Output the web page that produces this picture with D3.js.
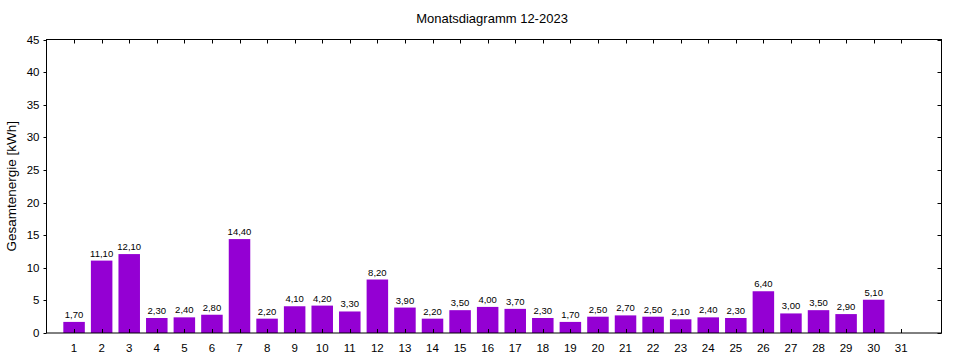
<!DOCTYPE html>
<html><head><meta charset="utf-8">
<script src="https://cdn.jsdelivr.net/npm/d3@7"></script>
<style>body{margin:0;background:#fff}svg{display:block;font-family:"Liberation Sans",Arial,sans-serif}</style>
</head><body><svg id="c" width="960" height="360"></svg>
<script>
const days = d3.range(1, 32);
const values = [1.7,11.1,12.1,2.3,2.4,2.8,14.4,2.2,4.1,4.2,3.3,8.2,3.9,2.2,3.5,4.0,3.7,2.3,1.7,2.5,2.7,2.5,2.1,2.4,2.3,6.4,3.0,3.5,2.9,5.1,null];
const yTicks = [0,5,10,15,20,25,30,35,40,45];
const title = "Monatsdiagramm 12-2023";
const yLabel = "Gesamtenergie [kWh]";

const svg = d3.select("#c");
const L = 46.5, R = 941.5, T = 39.5, B = 333;
const x = d3.scaleLinear().domain([0, 32.46]).range([L, R]);
const y = d3.scaleLinear().domain([0, 45]).range([B, T]);
const bw = (x(1) - x(0)) * 0.78;

const data = days.map((d, i) => ({d, v: values[i]}));

svg.selectAll("rect.bar").data(data.filter(e => e.v != null)).join("rect")
  .attr("class","bar")
  .attr("x", e => x(e.d) - bw/2).attr("width", bw)
  .attr("y", e => y(e.v)).attr("height", e => y(0) - y(e.v))
  .attr("fill", "#9400d3");

svg.selectAll("text.val").data(data.filter(e => e.v != null)).join("text")
  .attr("class","val")
  .attr("x", e => x(e.d)).attr("y", e => y(e.v) - 4)
  .attr("text-anchor","middle").attr("font-size", 9.5).attr("fill","#000")
  .text(e => e.v.toFixed(2).replace(".", ","));

// frame
svg.append("rect").attr("x", L).attr("y", T).attr("width", R - L).attr("height", B - T)
  .attr("fill","none").attr("stroke","#000").attr("stroke-width",1);

const g = svg.append("g").attr("stroke","#000");
yTicks.forEach(t => {
  const yy = Math.round(y(t)) + 0.5;
  g.append("line").attr("x1", L - 3).attr("x2", L).attr("y1", yy).attr("y2", yy);
  g.append("line").attr("x1", R - 4).attr("x2", R).attr("y1", yy).attr("y2", yy);
});
svg.selectAll("text.yt").data(yTicks).join("text").attr("class","yt")
  .attr("x", L - 7).attr("y", t => y(t) + 4).attr("text-anchor","end")
  .attr("font-size", 11.5).text(t => t);

days.forEach(d => {
  const xx = Math.round(x(d)) + 0.5;
  g.append("line").attr("x1", xx).attr("x2", xx).attr("y1", T).attr("y2", T + 4);
  g.append("line").attr("x1", xx).attr("x2", xx).attr("y1", B).attr("y2", B - 4);
});
svg.selectAll("text.xt").data(days).join("text").attr("class","xt")
  .attr("x", d => x(d)).attr("y", 352).attr("text-anchor","middle")
  .attr("font-size", 11.5).text(d => d);

svg.append("text").attr("x", (L + R) / 2 - 2).attr("y", 23).attr("text-anchor","middle")
  .attr("font-size", 13).text(title);
svg.append("text").attr("transform", `translate(16,${(T + B) / 2}) rotate(-90)`)
  .attr("text-anchor","middle").attr("font-size", 13.5).text(yLabel);
</script></body></html>
